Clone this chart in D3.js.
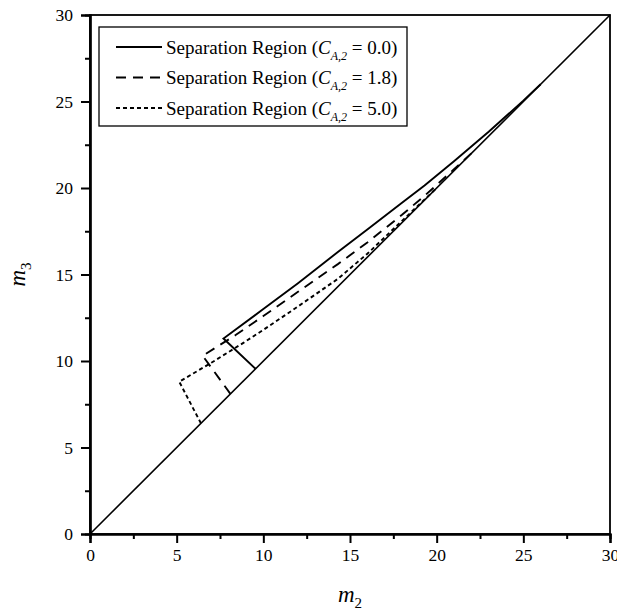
<!DOCTYPE html>
<html>
<head>
<meta charset="utf-8">
<script src="https://cdn.jsdelivr.net/npm/d3@7"></script>
<style>
  body { margin: 0; background: #fff; }
  svg text { font-family: "Liberation Serif", "Times New Roman", serif; fill: #000; }
</style>
</head>
<body>
<div id="chart"></div>
<script>
// separation regions, m2 vs m3

const W = 617, H = 615;
const margin = {top: 15, right: 7, bottom: 81, left: 90};
const plotW = W - margin.left - margin.right;
const plotH = H - margin.top - margin.bottom;

// data: [m2, m3]
const diagonal = [[0, 0], [30, 30]];
const region00 = [[9.55, 9.55], [7.7, 11.3], [10, 13.0], [12, 14.5], [14.3, 16.3], [16, 17.6],
                  [18, 19.15], [19.3, 20.15], [21, 21.55], [23, 23.25], [25, 25.05], [26, 26]];
const region18 = [[8.1, 8.1], [6.5, 10.3], [8.4, 11.5], [10, 12.6], [12, 14.0], [14.3, 15.6],
                  [16, 16.85], [18, 18.45], [19.3, 19.55], [21, 21.08], [22, 22]];
const region50 = [[6.4, 6.4], [5.15, 8.8], [7, 9.9], [8.85, 11.05], [10, 11.8], [12, 13.15],
                  [14.3, 14.75], [16, 16.2], [18, 18.1], [20, 20]];

const majorTicks = [0, 5, 10, 15, 20, 25, 30];
const minorTicks = [2.5, 7.5, 12.5, 17.5, 22.5, 27.5];

const legendItems = [
  {label: "0.0", dash: null, data: region00},
  {label: "1.8", dash: "10,7", data: region18},
  {label: "5.0", dash: "4,3", data: region50}
];

const svg = d3.select("#chart").append("svg")
  .attr("width", W)
  .attr("height", H);

const g = svg.append("g")
  .attr("transform", `translate(${margin.left},${margin.top})`);

const x = d3.scaleLinear().domain([0, 30]).range([0, plotW]);
const y = d3.scaleLinear().domain([0, 30]).range([plotH, 0]);

const line = d3.line()
  .x(d => x(d[0]))
  .y(d => y(d[1]));

// frame
g.append("rect")
  .attr("width", plotW)
  .attr("height", plotH)
  .attr("fill", "none")
  .attr("stroke", "#000")
  .attr("stroke-width", 1.8);

// x axis
g.append("g")
  .attr("transform", `translate(0,${plotH})`)
  .call(d3.axisBottom(x).tickValues(majorTicks).tickSize(9).tickPadding(6).tickFormat(d3.format("d")));
g.append("g")
  .attr("transform", `translate(0,${plotH})`)
  .call(d3.axisBottom(x).tickValues(minorTicks).tickSize(5).tickFormat(""));

// y axis
g.append("g")
  .call(d3.axisLeft(y).tickValues(majorTicks).tickSize(9).tickPadding(8).tickFormat(d3.format("d")));
g.append("g")
  .call(d3.axisLeft(y).tickValues(minorTicks).tickSize(5).tickFormat(""));

g.selectAll(".domain").attr("stroke-width", 2.2);
g.selectAll(".tick line").attr("stroke-width", 2);
g.selectAll(".tick text")
  .style("font-size", "17.5px")
  .style("font-family", "Liberation Serif");

// data lines
g.append("path")
  .datum(diagonal)
  .attr("d", line)
  .attr("fill", "none")
  .attr("stroke", "#000")
  .attr("stroke-width", 1.6);

legendItems.forEach(item => {
  g.append("path")
    .datum(item.data)
    .attr("d", line)
    .attr("fill", "none")
    .attr("stroke", "#000")
    .attr("stroke-width", 1.9)
    .attr("stroke-dasharray", item.dash);
});

// legend
const legend = svg.append("g").attr("transform", "translate(99,27)");
legend.append("rect")
  .attr("width", 308)
  .attr("height", 99)
  .attr("fill", "#fff")
  .attr("stroke", "#000")
  .attr("stroke-width", 1.3);

const rows = legend.selectAll(".row")
  .data(legendItems)
  .enter()
  .append("g")
  .attr("transform", (d, i) => `translate(0,${20 + i * 30.5})`);

rows.append("line")
  .attr("x1", 17).attr("x2", 63)
  .attr("y1", 0).attr("y2", 0)
  .attr("stroke", "#000")
  .attr("stroke-width", 1.9)
  .attr("stroke-dasharray", d => d.dash);

const lt = rows.append("text")
  .attr("x", 67)
  .attr("y", 6.5)
  .style("font-size", "19px");
lt.append("tspan").text("Separation Region (");
lt.append("tspan").style("font-style", "italic").text("C");
lt.append("tspan").style("font-style", "italic").style("font-size", "12px")
  .attr("dy", 6).text("A,2");
lt.append("tspan").attr("dy", -6).text(d => " = " + d.label + ")");

// axis titles
const xt = svg.append("text")
  .attr("x", margin.left + plotW / 2)
  .attr("y", 602)
  .attr("text-anchor", "middle")
  .style("font-size", "23px");
xt.append("tspan").style("font-style", "italic").text("m");
xt.append("tspan").style("font-size", "15px").attr("dy", 6).text("2");

const yt = svg.append("text")
  .attr("transform", `translate(25,${margin.top + plotH / 2}) rotate(-90)`)
  .attr("text-anchor", "middle")
  .style("font-size", "23px");
yt.append("tspan").style("font-style", "italic").text("m");
yt.append("tspan").style("font-size", "15px").attr("dy", 6).text("3");
</script>
</body>
</html>
